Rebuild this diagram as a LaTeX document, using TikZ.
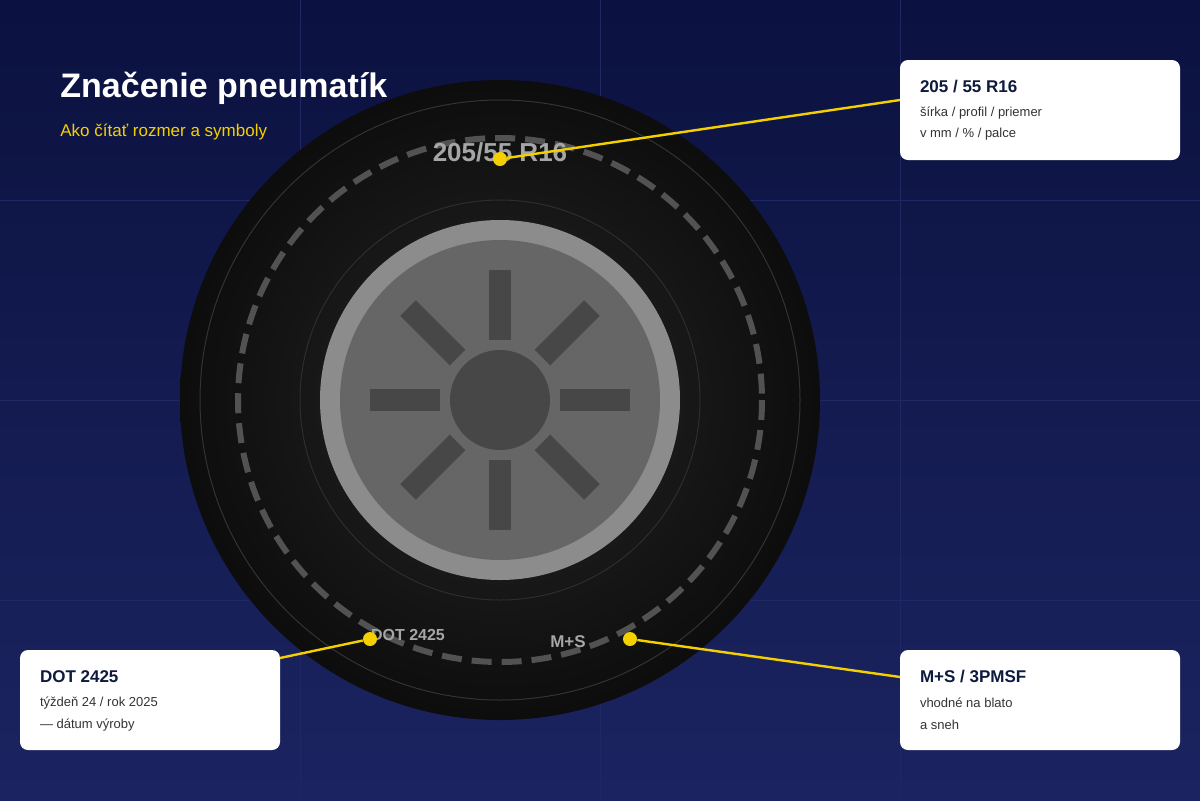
\documentclass[tikz,border=0pt]{standalone}
\usepackage{fontspec}
\setmainfont{Liberation Sans}
\usetikzlibrary{positioning, calc}
\definecolor{navytop}{HTML}{0B1240}
\definecolor{navybot}{HTML}{1B2460}
\definecolor{mark}{HTML}{F5D000}
\definecolor{boxtitle}{HTML}{0E1A3E}
\definecolor{boxtext}{HTML}{333333}
\tikzset{
        info-box/.style={
            fill=white, rounded corners=4pt, minimum width=140pt, minimum height=50pt, inner sep=0pt
        },
        box-title/.style={anchor=west, inner sep=0pt, font=\fontsize{8.5}{10}\selectfont\bfseries, text=boxtitle},
        box-line/.style={anchor=west, inner sep=0pt, font=\fontsize{6.5}{8}\selectfont, text=boxtext},
        mark-dot/.style={circle, fill=mark, minimum size=7pt, inner sep=0pt},
        lead/.style={draw=mark, line width=1.2pt},
        spoke/.style={fill=black!72},
        side-text/.style={text=black!35, font=\bfseries},
}
\begin{document}
\begin{tikzpicture}[x=0.5pt, y=-0.5pt]

        % BACKGROUND AND GRID
        \shade[top color=navytop, bottom color=navybot] (0,0) rectangle (1200,800);
        \useasboundingbox (0,0) rectangle (1200,800);
        \foreach \g in {300,600,900} \draw[white!2!navybot, line width=0.5pt] (\g,0) -- (\g,800);
        \foreach \g in {200,400,600} \draw[white!2!navybot, line width=0.5pt] (0,\g) -- (1200,\g);

        % TITLE
        \node [anchor=west, inner sep=0pt, text=white, font=\fontsize{17}{19}\selectfont\bfseries] (title) at (60,88) {Značenie pneumatík};
        \node [anchor=west, inner sep=0pt, text=mark, font=\fontsize{8.5}{10}\selectfont] (subtitle) at (60,132) {Ako čítať rozmer a symboly};

        % TIRE
        \shade[inner color=black!85, outer color=black!95] (500,400) circle[radius=320];
        \draw[black!80, line width=0.5pt] (500,400) circle[radius=300];
        \draw[black!82, line width=0.5pt] (500,400) circle[radius=200];
        \draw[black!68, line width=3pt, dash pattern=on 10pt off 5pt] (500,400) circle[radius=262];

        % RIM
        \fill[black!45] (500,400) circle[radius=180];
        \fill[black!60] (500,400) circle[radius=160];
        \foreach \a in {0,45,...,315}
            \fill[spoke, rotate around={\a:(500,400)}] (489,270) rectangle (511,340);
        \fill[black!72] (500,400) circle[radius=50];

        % SIDEWALL TEXT
        \node [side-text, font=\fontsize{13}{14}\selectfont\bfseries] (size) at (500,152) {205/55 R16};
        \node [side-text, font=\fontsize{8}{9}\selectfont\bfseries] (dot) at (408,635) {DOT 2425};
        \node [side-text, font=\fontsize{8.5}{9}\selectfont\bfseries] (ms) at (568,642) {M+S};

        % INFO BOXES
        \node [info-box] (box-size) at (1040,110) {};
        \node [box-title] at ($(box-size.north west)+(20,27)$) {205 / 55 R16};
        \node [box-line]  at ($(box-size.north west)+(20,53)$) {šírka / profil / priemer};
        \node [box-line]  at ($(box-size.north west)+(20,75)$) {v mm / \% / palce};

        \node [info-box, minimum width=130pt] (box-dot) at (150,700) {};
        \node [box-title] at ($(box-dot.north west)+(20,27)$) {DOT 2425};
        \node [box-line]  at ($(box-dot.north west)+(20,53)$) {týždeň 24 / rok 2025};
        \node [box-line]  at ($(box-dot.north west)+(20,75)$) {— dátum výroby};

        \node [info-box] (box-ms) at (1040,700) {};
        \node [box-title] at ($(box-ms.north west)+(20,27)$) {M+S / 3PMSF};
        \node [box-line]  at ($(box-ms.north west)+(20,53)$) {vhodné na blato};
        \node [box-line]  at ($(box-ms.north west)+(20,75)$) {a sneh};

        % CONNECT MARKERS
        \node [mark-dot] (p-size) at (500,159) {};
        \node [mark-dot] (p-dot)  at (370,639) {};
        \node [mark-dot] (p-ms)   at (630,639) {};
        \coordinate (e-size) at (900,100);
        \coordinate (e-dot)  at (280,658);
        \coordinate (e-ms)   at (900,677);
        \draw [lead] (p-size) -- (e-size);
        \draw [lead] (p-dot) -- (e-dot);
        \draw [lead] (p-ms) -- (e-ms);

    \end{tikzpicture}
\end{document}
